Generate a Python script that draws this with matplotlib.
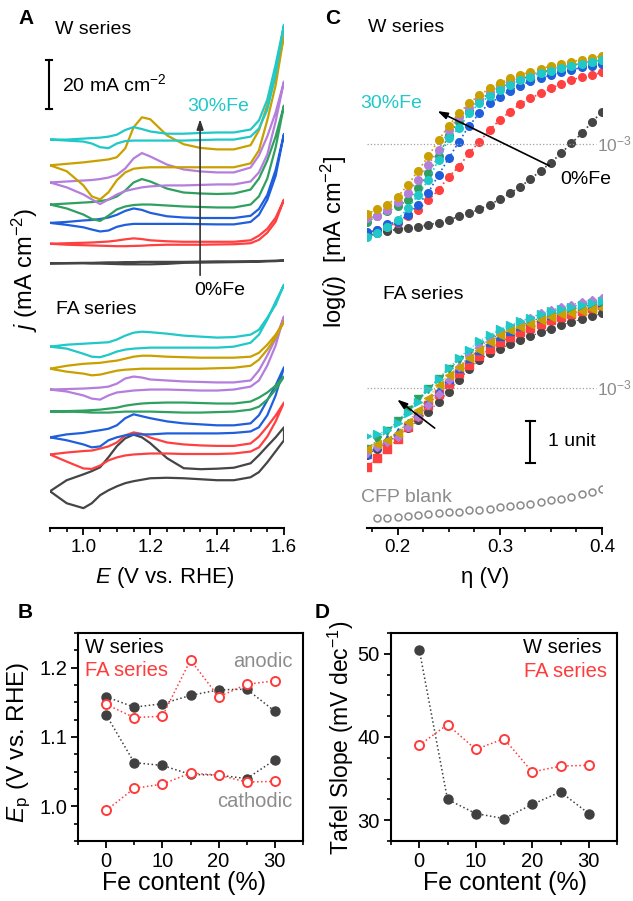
import numpy as np
import matplotlib
matplotlib.use('Agg')
import matplotlib.pyplot as plt
from matplotlib.ticker import MultipleLocator

plt.rcParams['font.family'] = ['Liberation Sans', 'DejaVu Sans']
plt.rcParams['mathtext.fontset'] = 'custom'
plt.rcParams['mathtext.rm'] = 'Liberation Sans'
plt.rcParams['mathtext.it'] = 'Liberation Sans:italic'

# ---------------- data ----------------
fe_labels = ['0%', '5%', '10%', '15%', '20%', '25%', '30%']
colors = ['#454545', '#ff4040', '#1f5fdc', '#30a060', '#b57edc', '#c9a000', '#20c8c8']

# panel A: CV curves, potential grid (V vs RHE), currents in mA cm-2 relative to curve start
E_grid = [0.9, 0.95, 1.0, 1.025, 1.05, 1.075, 1.1, 1.125, 1.15, 1.175, 1.2,
          1.25, 1.3, 1.35, 1.4, 1.45, 1.5, 1.525, 1.55, 1.575, 1.6]

W_offsets = [108, 116, 124.5, 132, 141, 148, 158.5]
FA_offsets = [15, 30, 37, 47.5, 56.5, 65, 74]

W_anodic = [
    [0, 0.1, 0.2, 0.2, 0.3, 0.4, 0.4, 0.5, 0.5, 0.6, 0.6, 0.6, 0.6, 0.7, 0.8, 0.8, 0.8, 0.9, 1.0, 1.1, 1.2],
    [0, 0.2, 0.4, 0.5, 0.7, 0.9, 1.3, 1.8, 2.2, 1.9, 1.4, 1.0, 0.8, 0.8, 0.8, 0.8, 1.4, 3.3, 6.1, 10.6, 18.0],
    [0, 0.4, 1.0, 1.2, 1.6, 2.2, 3.3, 4.9, 5.9, 5.3, 4.1, 2.7, 2.2, 2.0, 2.0, 2.0, 2.9, 5.7, 11.4, 21.6, 36.3],
    [0, 0.4, 0.8, 1.0, 1.4, 2.0, 3.3, 5.7, 9.0, 10.4, 9.4, 6.5, 4.9, 4.5, 4.3, 4.5, 6.1, 10.6, 18.0, 27.8, 40.4],
    [0, 0.4, 0.8, 1.0, 1.4, 2.0, 3.1, 5.7, 9.8, 12.0, 10.6, 7.3, 5.3, 4.5, 4.1, 4.1, 6.1, 11.0, 18.8, 28.6, 41.2],
    [0, 0.6, 1.2, 1.6, 2.0, 2.4, 3.3, 6.9, 15.5, 19.6, 18.8, 12.2, 8.6, 7.1, 6.5, 6.5, 8.2, 14.3, 24.5, 36.7, 53.1],
    [0, 0, 0.4, 0.6, 0.8, 1.2, 2.0, 3.9, 5.1, 4.3, 3.3, 2.4, 2.4, 2.7, 2.9, 2.9, 4.1, 7.8, 16.3, 30.6, 46.9],
]
W_cathodic = [
    [0, 0, 0, -0.1, -0.1, -0.2, -0.3, -0.4, -0.4, -0.4, -0.4, -0.2, 0.2, 0.3, 0.4, 0.5, 0.6, 0.7, 0.8, 0.9, 1.1],
    [0, -0.4, -0.6, -0.7, -0.8, -0.9, -1.0, -1.0, -0.9, -0.8, -0.6, -0.4, -0.4, -0.4, -0.3, -0.2, 0.2, 1.6, 4.5, 9.0, 18.0],
    [0, -0.8, -1.8, -2.7, -3.5, -3.1, -1.6, -0.8, -0.4, -0.4, -0.4, -0.4, -0.4, -0.5, -0.6, -0.6, 0.4, 3.3, 9.4, 19.2, 36.3],
    [0, -1.6, -4.1, -5.9, -6.7, -4.5, -2.0, -0.8, -0.2, 0, 0, -0.4, -0.8, -1.0, -1.2, -1.2, 0, 3.3, 10.6, 23.3, 40.4],
    [0, -2.0, -4.9, -6.9, -8.8, -6.9, -4.9, -3.5, -2.7, -2.0, -1.6, -1.2, -1.2, -1.0, -0.8, -0.8, 0.4, 4.1, 11.4, 24.9, 41.2],
    [0, -2.4, -8.2, -12.7, -13.9, -11.0, -6.1, -2.9, -1.4, -1.0, -0.8, -0.8, -0.8, -0.8, -0.8, -0.8, 0.8, 6.1, 18.4, 32.7, 53.1],
    [0, -0.4, -0.8, -1.6, -3.1, -3.5, -1.6, -0.6, -0.4, -0.4, -0.4, -0.4, -0.4, -0.2, 0, 0, 1.2, 4.5, 12.2, 26.5, 46.9],
]
FA_anodic = [
    [0, 4.5, 6.9, 8.2, 9.8, 13.9, 18.4, 21.6, 23.1, 22.0, 19.6, 13.5, 9.4, 9.0, 9.2, 9.6, 11.4, 14.7, 18.4, 22.0, 26.1],
    [0, 0.8, 1.4, 1.6, 2.4, 3.3, 4.9, 7.8, 9.0, 8.4, 6.9, 4.9, 4.1, 3.7, 3.5, 3.5, 4.5, 7.3, 11.4, 15.9, 21.2],
    [0, 1.2, 1.8, 2.4, 2.9, 3.5, 4.9, 7.8, 9.4, 8.6, 7.8, 6.5, 5.7, 5.3, 4.9, 4.9, 5.7, 9.0, 15.1, 21.2, 28.6],
    [0, 0.2, 0.4, 0.6, 0.8, 1.2, 1.6, 2.4, 2.9, 3.3, 3.5, 3.7, 3.7, 3.5, 3.3, 3.3, 4.1, 5.7, 7.8, 10.6, 14.3],
    [0, 0.2, 0.4, 0.6, 0.8, 1.2, 2.4, 4.5, 5.3, 4.9, 4.1, 3.7, 3.3, 3.1, 2.9, 2.9, 3.7, 7.8, 13.9, 20.8, 29.8],
    [0, 1.2, 2.0, 2.2, 2.4, 2.9, 3.3, 4.1, 4.9, 5.3, 5.3, 4.9, 4.7, 4.5, 4.5, 4.5, 4.9, 6.5, 9.8, 13.9, 19.2],
    [0, 0.8, 1.2, 1.4, 1.6, 1.8, 2.9, 4.5, 5.7, 6.1, 5.9, 5.3, 4.5, 4.1, 3.7, 3.9, 4.9, 6.9, 11.8, 17.1, 25.3],
]
FA_cathodic = [
    [0, -4.9, -6.9, -4.9, -1.6, 0.4, 2.0, 3.3, 4.1, 4.7, 5.3, 5.5, 5.3, 4.9, 4.5, 4.5, 5.7, 7.8, 11.8, 16.3, 20.8],
    [0, -2.9, -5.7, -5.9, -4.5, -2.4, -1.2, -0.4, 0, 0.2, 0.4, 0.4, 0.2, 0.2, 0.2, 0.4, 1.2, 2.9, 7.3, 13.5, 21.2],
    [0, -1.2, -2.9, -4.1, -3.7, -1.2, 0, 0.8, 1.2, 1.2, 1.2, 1.6, 1.6, 1.6, 1.6, 1.8, 2.4, 4.1, 9.0, 17.1, 28.6],
    [0, 0, -0.2, -0.4, -0.4, -0.4, -0.2, 0, 0, 0, 0, -0.2, -0.4, -0.4, -0.2, 0, 0.8, 2.0, 4.9, 9.0, 14.3],
    [0, -0.8, -2.4, -3.7, -4.1, -2.4, -1.2, -0.8, -0.4, -0.2, 0, 0, -0.2, -0.4, -0.4, 0, 1.2, 3.7, 9.8, 18.0, 29.8],
    [0, -1.2, -2.0, -2.7, -2.4, -1.6, -0.8, -0.4, -0.2, 0, 0, 0, 0, 0, 0.2, 0.4, 1.2, 3.7, 7.8, 12.7, 19.2],
    [0, -0.8, -2.9, -4.1, -4.3, -3.3, -2.0, -1.2, -0.8, -0.6, -0.4, -0.4, -0.4, -0.4, -0.4, 0, 1.6, 4.9, 11.0, 18.4, 25.3],
]

# panel C: Tafel data, log(j)
eta = [0.17, 0.18, 0.19, 0.20, 0.21, 0.22, 0.23, 0.24, 0.25, 0.26, 0.27, 0.28,
       0.29, 0.30, 0.31, 0.32, 0.33, 0.34, 0.35, 0.36, 0.37, 0.38, 0.39, 0.40]
W_log_offset = 5.81
W_logj = [
    [-5.18, -5.12, -5.07, -5.02, -4.99, -4.96, -4.92, -4.87, -4.80, -4.72, -4.64, -4.55,
     -4.44, -4.31, -4.17, -4.01, -3.83, -3.63, -3.44, -3.21, -2.98, -2.74, -2.48, -2.22],
    [-5.12, -5.04, -4.96, -4.87, -4.72, -4.56, -4.33, -4.09, -3.77, -3.53, -3.21, -2.94,
     -2.66, -2.42, -2.22, -2.04, -1.90, -1.79, -1.67, -1.56, -1.47, -1.40, -1.35, -1.29],
    [-5.10, -5.04, -4.90, -4.85, -4.68, -4.44, -4.15, -3.73, -3.33, -2.94, -2.56, -2.26,
     -2.02, -1.88, -1.72, -1.61, -1.49, -1.43, -1.35, -1.29, -1.23, -1.17, -1.13, -1.09],
    [-4.84, -4.72, -4.60, -4.48, -4.33, -4.05, -3.69, -3.29, -2.78, -2.46, -2.18, -1.94,
     -1.79, -1.64, -1.55, -1.45, -1.37, -1.29, -1.23, -1.17, -1.12, -1.07, -1.03, -0.99],
    [-4.76, -4.71, -4.56, -4.37, -4.15, -3.85, -3.49, -3.13, -2.66, -2.34, -2.14, -1.92,
     -1.75, -1.61, -1.49, -1.41, -1.35, -1.27, -1.21, -1.15, -1.10, -1.06, -1.02, -0.97],
    [-4.66, -4.55, -4.44, -4.25, -3.97, -3.63, -3.29, -2.90, -2.56, -2.26, -2.02, -1.83,
     -1.67, -1.55, -1.43, -1.35, -1.27, -1.21, -1.13, -1.09, -1.03, -0.99, -0.94, -0.90],
    [-5.21, -5.12, -4.98, -4.80, -4.52, -4.21, -3.85, -3.37, -2.86, -2.62, -2.26, -2.02,
     -1.85, -1.71, -1.59, -1.47, -1.39, -1.31, -1.25, -1.19, -1.13, -1.09, -1.04, -0.99],
]
FA_logj = [
    [-4.58, -4.44, -4.28, -4.13, -3.96, -3.76, -3.56, -3.33, -3.09, -2.80, -2.55, -2.32,
     -2.17, -2.06, -1.95, -1.86, -1.76, -1.67, -1.58, -1.50, -1.42, -1.36, -1.29, -1.22],
    [-4.87, -4.67, -4.45, -4.20, -3.92, -3.67, -3.40, -3.14, -2.89, -2.63, -2.44, -2.24,
     -2.06, -1.90, -1.78, -1.67, -1.56, -1.48, -1.38, -1.30, -1.23, -1.16, -1.10, -1.03],
    [-4.56, -4.38, -4.22, -4.04, -3.83, -3.59, -3.33, -3.05, -2.77, -2.51, -2.28, -2.08,
     -1.90, -1.75, -1.63, -1.52, -1.41, -1.33, -1.25, -1.17, -1.11, -1.06, -1.00, -0.95],
    [-4.44, -4.24, -4.02, -3.78, -3.52, -3.26, -3.01, -2.77, -2.55, -2.33, -2.15, -1.98,
     -1.84, -1.71, -1.60, -1.50, -1.40, -1.33, -1.25, -1.19, -1.13, -1.07, -1.02, -0.98],
    [-4.54, -4.40, -4.28, -4.16, -3.92, -3.68, -3.40, -3.13, -2.81, -2.49, -2.24, -2.03,
     -1.84, -1.68, -1.54, -1.42, -1.32, -1.22, -1.14, -1.07, -1.01, -0.95, -0.90, -0.85],
    [-4.44, -4.33, -4.24, -4.06, -3.80, -3.52, -3.23, -2.93, -2.69, -2.49, -2.29, -2.08,
     -1.90, -1.74, -1.62, -1.54, -1.46, -1.38, -1.30, -1.24, -1.20, -1.16, -1.12, -1.10],
    [-4.13, -4.10, -4.00, -3.83, -3.60, -3.33, -3.03, -2.77, -2.52, -2.27, -2.08, -1.87,
     -1.74, -1.60, -1.50, -1.40, -1.32, -1.24, -1.17, -1.11, -1.06, -1.01, -0.96, -0.92],
]
FA_markers = ['o', 's', '^', 'v', 'D', '<', '>']
eta_blank = eta[1:]
logj_blank = [-6.10, -6.08, -6.06, -6.05, -6.02, -6.00, -5.98, -5.96, -5.94, -5.91, -5.89, -5.87,
              -5.84, -5.81, -5.78, -5.75, -5.71, -5.67, -5.63, -5.59, -5.53, -5.47, -5.39]

# panel B: peak potentials
fe_content = [0, 5, 10, 15, 20, 25, 30]
Ep_W_anodic = [1.158, 1.143, 1.148, 1.160, 1.168, 1.169, 1.137]
Ep_W_cathodic = [1.132, 1.063, 1.059, 1.046, 1.045, 1.040, 1.067]
Ep_FA_anodic = [1.147, 1.128, 1.130, 1.211, 1.158, 1.176, 1.181]
Ep_FA_cathodic = [0.994, 1.026, 1.032, 1.048, 1.045, 1.035, 1.036]

# panel D: Tafel slopes
tafel_W = [50.5, 32.5, 30.8, 30.2, 31.9, 33.4, 30.8]
tafel_FA = [39.0, 41.5, 38.5, 39.8, 35.8, 36.5, 36.6]

# ---------------- figure ----------------
W, H = 633, 901
fig = plt.figure(figsize=(W / 100, H / 100), dpi=100)


def box(x0, y0, x1, y1):
    return [x0 / W, 1 - y1 / H, (x1 - x0) / W, (y1 - y0) / H]


axA = fig.add_axes(box(50, 20, 284, 528))
axC = fig.add_axes(box(366.7, 20, 602, 528))
axB = fig.add_axes(box(78, 633, 303, 841))
axD = fig.add_axes(box(391, 633, 617, 841))

NOTE = 14
grey_txt = '#8c8c8c'


def style_open(ax):
    for s in ['left', 'right', 'top']:
        ax.spines[s].set_visible(False)
    ax.spines['bottom'].set_linewidth(1.5)
    ax.set_yticks([])
    ax.tick_params(axis='x', which='major', direction='out', length=5, width=1.3, labelsize=13.5, pad=3)
    ax.tick_params(axis='x', which='minor', direction='out', length=3, width=1.2)
    ax.patch.set_alpha(0)


def style_box(ax):
    for s in ax.spines.values():
        s.set_linewidth(1.5)
    ax.tick_params(which='major', direction='out', length=5, width=1.3, labelsize=14.5, pad=3,
                   top=False, right=False)
    ax.tick_params(which='minor', direction='out', length=3, width=1.2, top=False, right=False)


# --- A ---
E_loop = E_grid + E_grid[::-1]
for i in range(7):
    ya = np.array(W_anodic[i] + W_cathodic[i][::-1]) + W_offsets[i]
    axA.plot(E_loop, ya, color=colors[i], lw=1.6)
    yb = np.array(FA_anodic[i] + FA_cathodic[i][::-1]) + FA_offsets[i]
    axA.plot(E_loop, yb, color=colors[i], lw=1.6)
axA.set_xlim(0.9, 1.6)
axA.set_ylim(0, 207.3)
style_open(axA)
axA.xaxis.set_minor_locator(MultipleLocator(0.05))
axA.set_xticks([1.0, 1.2, 1.4, 1.6])
axA.set_xticklabels(['1.0', '1.2', '1.4', '1.6'])
axA.plot([0.897, 0.897], [171, 191], color='k', lw=1.5, clip_on=False)
axA.plot([0.889, 0.905], [191, 191], color='k', lw=1.5, clip_on=False)
axA.plot([0.889, 0.905], [171, 171], color='k', lw=1.5, clip_on=False)
axA.text(0.935, 181, '20 mA cm$^{-2}$', fontsize=NOTE, va='center', ha='left')
axA.text(0.915, 203.5, 'W series', fontsize=NOTE, va='center', ha='left')
axA.text(0.918, 89, 'FA series', fontsize=NOTE, va='center', ha='left')
axA.annotate('', xy=(1.349, 168), xytext=(1.349, 102),
             arrowprops=dict(arrowstyle='-|>,head_length=0.6,head_width=0.2', color='#333333', lw=1.2))
axA.text(1.402, 172, '30%Fe', color=colors[6], fontsize=NOTE, ha='center', va='center')
axA.text(1.408, 97, '0%Fe', color='k', fontsize=NOTE, ha='center', va='center')

# --- C ---
for i in range(7):
    axC.plot(eta, np.array(W_logj[i]) + W_log_offset, ls=':', lw=1.2, color=colors[i],
             marker='o', ms=5.5, mec=colors[i], mfc=colors[i])
for i in range(7):
    axC.plot(eta, FA_logj[i], ls=':', lw=0.8, color=colors[i], marker=FA_markers[i],
             ms=5.5 if FA_markers[i] != 'D' else 4.5, mec=colors[i], mfc=colors[i])
axC.plot(eta_blank, logj_blank, ls='none', marker='o', ms=5, mfc='white', mec='#8a8a8a', mew=1.1)
axC.set_xlim(0.1697, 0.4)
axC.set_ylim(-6.33, 5.77)
style_open(axC)
axC.set_xticks([0.2, 0.3, 0.4])
axC.set_xticklabels(['0.2', '0.3', '0.4'])
axC.xaxis.set_minor_locator(MultipleLocator(0.025))
axC.plot([0.17, 0.394], [-3 + W_log_offset] * 2, ls=':', color='#a0a0a0', lw=0.9)
axC.plot([0.17, 0.394], [-3, -3], ls=':', color='#a0a0a0', lw=0.9)
axC.text(0.3955, -3 + W_log_offset, '10$^{-3}$', color=grey_txt, fontsize=12.5, va='center',
         ha='left', clip_on=False)
axC.text(0.3955, -3, '10$^{-3}$', color=grey_txt, fontsize=12.5, va='center', ha='left', clip_on=False)
axC.text(0.171, 5.6, 'W series', fontsize=NOTE, va='center', ha='left')
axC.text(0.1856, -0.78, 'FA series', fontsize=NOTE, va='center', ha='left')
axC.text(0.1935, 3.79, '30%Fe', color=colors[6], fontsize=NOTE, ha='center', va='center')
axC.text(0.384, 1.96, '0%Fe', color='k', fontsize=NOTE, ha='center', va='center')
axC.annotate('', xy=(0.2365, 3.63), xytext=(0.3508, 2.27),
             arrowprops=dict(arrowstyle='-|>,head_length=0.6,head_width=0.2', color='k', lw=1.2))
axC.annotate('', xy=(0.1974, -3.23), xytext=(0.2384, -3.99),
             arrowprops=dict(arrowstyle='-|>,head_length=0.6,head_width=0.2', color='k', lw=1.2))
axC.plot([0.330, 0.330], [-4.78, -3.78], color='k', lw=1.5)
axC.plot([0.326, 0.334], [-3.78, -3.78], color='k', lw=1.5)
axC.plot([0.326, 0.334], [-4.78, -4.78], color='k', lw=1.5)
axC.text(0.347, -4.28, '1 unit', fontsize=NOTE, va='center', ha='left')
axC.text(0.1637, -5.61, 'CFP blank', color=grey_txt, fontsize=NOTE, va='center', ha='left',
         clip_on=False)

# --- B ---
w_kw = dict(ls=':', lw=1.1, color='#404040', marker='o', ms=6.5, mfc='#404040', mec='#404040')
fa_kw = dict(ls=':', lw=1.1, color='#ff3b3b', marker='o', ms=6.5, mfc='white', mec='#ff3b3b', mew=1.4)
axB.plot(fe_content, Ep_W_anodic, **w_kw)
axB.plot(fe_content, Ep_W_cathodic, **w_kw)
axB.plot(fe_content, Ep_FA_anodic, **fa_kw)
axB.plot(fe_content, Ep_FA_cathodic, **fa_kw)
axB.set_xlim(-5, 35)
axB.set_ylim(0.95, 1.25)
style_box(axB)
axB.set_xticks([0, 10, 20, 30])
axB.xaxis.set_minor_locator(MultipleLocator(5))
axB.set_yticks([1.0, 1.1, 1.2])
axB.set_yticklabels(['1.0', '1.1', '1.2'])
axB.yaxis.set_minor_locator(MultipleLocator(0.025))
axB.text(0.03, 0.928, 'W series', transform=axB.transAxes, fontsize=14.5, va='center', ha='left')
axB.text(0.03, 0.822, 'FA series', transform=axB.transAxes, fontsize=14.5, va='center', ha='left',
         color='#ff3b3b')
axB.text(0.955, 0.865, 'anodic', transform=axB.transAxes, fontsize=14.5, va='center', ha='right',
         color=grey_txt)
axB.text(0.955, 0.192, 'cathodic', transform=axB.transAxes, fontsize=14.5, va='center', ha='right',
         color=grey_txt)

# --- D ---
axD.plot(fe_content, tafel_W, **w_kw)
axD.plot(fe_content, tafel_FA, **fa_kw)
axD.set_xlim(-5, 35)
axD.set_ylim(27.5, 52.5)
style_box(axD)
axD.set_xticks([0, 10, 20, 30])
axD.xaxis.set_minor_locator(MultipleLocator(5))
axD.set_yticks([30, 40, 50])
axD.yaxis.set_minor_locator(MultipleLocator(2.5))
axD.text(0.93, 0.928, 'W series', transform=axD.transAxes, fontsize=14.5, va='center', ha='right')
axD.text(0.955, 0.817, 'FA series', transform=axD.transAxes, fontsize=14.5, va='center', ha='right',
         color='#ff3b3b')

# --- labels ---
def ftext(px, py, s, **kw):
    fig.text(px / W, 1 - py / H, s, **kw)


ftext(26, 18, 'A', fontsize=15, fontweight='bold', ha='center', va='center')
ftext(333, 18, 'C', fontsize=15, fontweight='bold', ha='center', va='center')
ftext(25, 612, 'B', fontsize=15, fontweight='bold', ha='center', va='center')
ftext(322, 612, 'D', fontsize=15, fontweight='bold', ha='center', va='center')
ftext(165, 578, '$E$ (V vs. RHE)', fontsize=16, ha='center', va='center')
ftext(485, 578, 'η (V)', fontsize=16, ha='center', va='center')
ftext(25, 270, '$j$ (mA cm$^{-2}$)', fontsize=17, ha='center', va='center', rotation=90)
ftext(334, 242, 'log($j$)  [mA cm$^{-2}$]', fontsize=17, ha='center', va='center', rotation=90)
ftext(184, 883, 'Fe content (%)', fontsize=18, ha='center', va='center')
ftext(505, 883, 'Fe content (%)', fontsize=18, ha='center', va='center')
ftext(19, 742, '$E_\\mathrm{p}$ (V vs. RHE)', fontsize=17.5, ha='center', va='center', rotation=90)
ftext(341, 738, 'Tafel Slope (mV dec$^{-1}$)', fontsize=16.5, ha='center', va='center', rotation=90)

fig.savefig('out.png', dpi=100)
